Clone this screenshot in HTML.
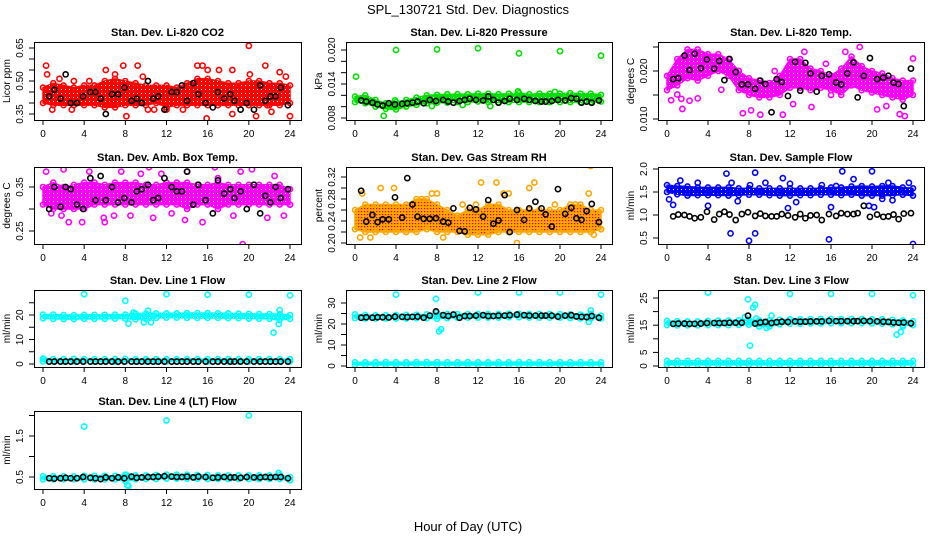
<!DOCTYPE html>
<html><head><meta charset="utf-8"><style>
html,body{margin:0;padding:0;background:#fff;}
svg{display:block;font-family:"Liberation Sans",Arial,sans-serif;}
</style></head><body>
<svg id="chart" width="936" height="540" viewBox="0 0 936 540" xmlns="http://www.w3.org/2000/svg">
<defs>
<pattern id="rhpat" width="3" height="3" patternUnits="userSpaceOnUse">
<rect width="3" height="3" fill="#ffa500"/><rect x="1" y="1" width="1.2" height="1.2" fill="#e00000"/>
</pattern>
<pattern id="dotpat" width="4" height="4" patternUnits="userSpaceOnUse">
<rect width="4" height="4" fill="none"/><rect x="1" y="1" width="1" height="1" fill="#fff"/>
</pattern>
</defs>
<text x="468" y="14" font-size="13" text-anchor="middle">SPL_130721  Std. Dev. Diagnostics</text>
<text x="468" y="531" font-size="13" text-anchor="middle">Hour of Day (UTC)</text>
</svg>
<script>
const xTicks = [0,4,8,12,16,20,24];
const blackX = [0.6,1.1,1.7,2.2,2.7,3.3,3.9,4.6,5.1,5.6,6.1,6.7,7.3,7.9,8.6,9.1,9.6,10.2,10.7,11.2,11.8,12.5,13.0,13.5,14.0,14.6,15.1,15.8,16.5,17.0,17.6,18.2,18.6,19.2,19.8,20.5,21.1,21.6,22.1,22.6,23.1,23.8];

// Panel 1: CO2
const co2Lo = [.40,.39,.39,.39,.39,.39,.38,.38,.39,.39,.39,.40,.38,.39,.39,.39,.39,.39,.39,.39,.39,.39,.39,.39,.40];
const co2Hi = [.47,.49,.48,.47,.48,.48,.50,.51,.50,.49,.48,.48,.48,.47,.49,.51,.51,.50,.49,.49,.50,.50,.49,.49,.48];
const co2OutX = [0.3,0.4,0.9,1.6,2.8,3.0,4.5,6.1,7.0,7.8,8.1,9.2,9.7,10.2,10.8,13.6,15.0,15.5,15.9,17.1,18.4,18.4,20.0,20.1,20.7,21.6,21.8,22.2,23.0,24.0,23.6,16.0,12.0,6.5];
const co2OutY = [.57,.53,.37,.51,.37,.50,.50,.55,.53,.57,.34,.57,.52,.37,.37,.37,.57,.57,.33,.55,.55,.35,.66,.53,.34,.57,.39,.36,.54,.34,.52,.55,.37,.40];
const co2Black = [.43,.46,.42,.53,.40,.40,.43,.45,.45,.42,.35,.44,.44,.47,.41,.42,.40,.50,.42,.43,.37,.45,.45,.48,.41,.49,.44,.40,.38,.45,.42,.44,.41,.37,.40,.37,.48,.41,.43,.43,.47,.39];

// Panel 2: pressure
const presLo = [.0108,.0106,.0100,.0096,.0095,.0100,.0103,.0106,.0107,.0107,.0108,.0108,.0109,.0108,.0108,.0108,.0108,.0108,.0108,.0108,.0108,.0108,.0108,.0108,.0109];
const presHi = [.0118,.0120,.0112,.0106,.0108,.0112,.0116,.0120,.0121,.0122,.0122,.0122,.0123,.0123,.0122,.0123,.0124,.0122,.0123,.0123,.0123,.0124,.0123,.0123,.0121];
const presOutX = [0.1,4.0,8.0,12.0,16.0,20.0,24.0,2.8,15.9,13.2,10.5,3.9,7.5,19.5];
const presOutY = [.0153,.0200,.0201,.0203,.0194,.0198,.0190,.0084,.0127,.0101,.0103,.0111,.0101,.0126];
const presBlack = [.0111,.0109,.0107,.0104,.0102,.0106,.0104,.0105,.0106,.0107,.0109,.0106,.0112,.0110,.0112,.0109,.0107,.0110,.0112,.0114,.0112,.0111,.0118,.0112,.0107,.0110,.0114,.0112,.0114,.0112,.0110,.0109,.0109,.0110,.0112,.0111,.0115,.0114,.0107,.0109,.0107,.0111];

// Panel 3: Li-820 temp
const tempLo = [.0160,.0170,.0185,.0180,.0190,.0200,.0190,.0160,.0150,.0145,.0145,.0150,.0165,.0165,.0160,.0165,.0160,.0150,.0170,.0160,.0155,.0150,.0145,.0140,.0150];
const tempHi = [.0190,.0225,.0245,.0245,.0235,.0235,.0225,.0200,.0185,.0180,.0175,.0190,.0225,.0225,.0205,.0200,.0190,.0205,.0230,.0210,.0200,.0195,.0185,.0180,.0180];
const tempOutX = [0.4,1.0,1.4,1.5,2.2,3.0,5.3,7.4,8.2,9.1,11.3,12.3,14.1,16.0,17.4,18.8,20.5,21.4,22.7,23.2,24.0,7.0,10.5,15.5,13.4];
const tempOutY = [.0139,.0151,.0142,.0121,.0138,.0143,.0161,.0112,.0118,.0109,.0109,.0131,.0125,.0150,.0240,.0250,.0120,.0127,.0110,.0106,.0226,.0200,.0200,.0215,.0240];
const tempBlack = [.0183,.0185,.0232,.0202,.0236,.0206,.0224,.0205,.0221,.0181,.0225,.0198,.0172,.0172,.0163,.0180,.0173,.0114,.0183,.0177,.0148,.0219,.0159,.0217,.0195,.0157,.0190,.0193,.0176,.0172,.0195,.0218,.0145,.0190,.0227,.0183,.0186,.0190,.0176,.0173,.0127,.0205];

// Panel 4: amb box temp
const ambLo = [.31,.30,.30,.30,.30,.31,.31,.31,.31,.31,.31,.31,.31,.31,.30,.31,.31,.30,.31,.31,.31,.31,.31,.31,.31];
const ambHi = [.35,.36,.35,.355,.36,.36,.355,.36,.36,.36,.355,.355,.36,.36,.36,.355,.355,.36,.355,.355,.355,.355,.355,.355,.345];
const ambOutX = [0.3,1.8,2.0,2.5,3.8,4.5,5.9,6.0,6.9,7.6,8.5,9.5,10.3,10.7,13.8,14.0,15.5,16.7,18.5,19.4,19.2,20.3,21.8,23.4,24.0,12.5,17.0,0.8,11.5,22.5];
const ambOutY = [.385,.285,.39,.27,.27,.385,.28,.27,.285,.385,.285,.38,.395,.28,.275,.385,.27,.395,.285,.22,.385,.39,.28,.285,.31,.29,.37,.29,.38,.375];
const ambBlack = [.30,.35,.305,.35,.345,.31,.30,.37,.32,.375,.32,.35,.315,.325,.315,.34,.345,.355,.32,.325,.37,.35,.34,.34,.385,.31,.355,.32,.29,.365,.335,.345,.325,.34,.30,.355,.29,.33,.315,.35,.325,.345];

// Panel 5: gas stream RH
const rhLo = [.225,.22,.22,.22,.22,.22,.22,.225,.22,.22,.22,.215,.215,.215,.22,.22,.22,.22,.22,.22,.22,.22,.22,.22,.225];
const rhHi = [.26,.27,.27,.27,.27,.27,.28,.28,.27,.26,.25,.26,.26,.27,.27,.26,.26,.26,.26,.26,.26,.27,.27,.26,.26];
const rhOutX = [0.5,0.7,2.5,3.8,5.0,7.5,8.0,8.6,10.5,11.8,12.3,13.8,14.5,15.0,15.8,17.0,17.5,19.5,21.5,22.8,23.0,23.3,24.0,1.5,6.5];
const rhOutY = [.21,.29,.30,.30,.22,.29,.29,.21,.27,.27,.31,.31,.29,.29,.20,.30,.31,.27,.27,.29,.34,.215,.225,.21,.28];
const rhBlack = [.295,.239,.251,.238,.243,.243,.283,.246,.318,.270,.248,.244,.244,.245,.239,.237,.263,.222,.221,.264,.261,.248,.278,.235,.241,.287,.220,.260,.242,.263,.275,.263,.252,.230,.298,.253,.264,.245,.242,.258,.271,.238];

// Panel 6: sample flow
const sfLo = [1.50,1.45,1.42,1.43,1.43,1.43,1.42,1.43,1.44,1.44,1.43,1.42,1.42,1.43,1.43,1.44,1.44,1.43,1.44,1.42,1.42,1.42,1.43,1.44,1.42];
const sfHi = [1.65,1.63,1.62,1.60,1.60,1.60,1.60,1.58,1.58,1.58,1.58,1.58,1.58,1.58,1.58,1.58,1.60,1.60,1.62,1.63,1.62,1.63,1.63,1.60,1.58];
const sfOutX = [0.2,0.6,1.3,4.0,5.8,6.2,6.3,6.9,8.0,8.1,8.6,8.6,11.3,11.8,12.0,12.6,15.1,15.8,16.0,16.5,17.1,18.2,19.7,20.0,20.2,21.0,21.6,22.0,23.6,24.0,3.0,9.6];
const sfOutY = [1.34,1.22,1.75,1.20,1.90,0.60,1.70,1.30,0.44,1.65,1.92,0.60,1.80,1.15,1.68,1.28,1.65,0.47,1.17,1.63,1.95,1.78,1.20,1.95,1.17,1.35,1.70,1.32,1.70,0.37,1.70,1.70];
const sfBlack = [.97,1.01,1.0,.97,.93,.95,1.07,.90,1.02,1.07,1.01,.89,1.02,1.06,.98,1.03,.98,.97,.97,1.02,.99,.95,1.02,.93,.99,1.0,.89,1.02,.98,1.04,1.02,1.02,1.04,1.2,.96,1.01,.96,.97,1.01,.91,1.03,1.04];

// Panel 7: line 1 flow
const l1Lo = [18.6,18.4,18.3,18.3,18.4,18.4,18.4,18.5,18.5,18.2,18.4,18.8,18.9,18.9,18.8,18.8,18.8,18.8,18.7,18.7,18.5,18.5,18.4,18.0,18.4];
const l1Hi = [20.2,20.2,20.0,20.0,20.1,20.1,20.1,20.2,20.2,20.6,20.6,20.7,20.7,20.7,20.8,20.8,20.8,20.7,20.7,20.6,20.5,20.4,20.4,20.4,20.0];
const l1LowLo = [1.0,1.0,1.0,1.0,1.0,1.0,1.0,1.0,1.0,1.0,1.0,1.0,1.0,1.0,1.0,1.0,1.0,1.0,1.0,1.0,1.0,1.0,1.0,1.0,1.0];
const l1LowHi = [2.2,2.0,2.0,2.1,2.0,2.0,2.0,2.0,2.1,2.0,2.0,2.0,2.0,2.0,2.0,2.0,2.0,2.0,2.0,2.0,2.0,2.0,2.0,2.0,2.0];
const l1OutX = [4.0,8.0,8.3,8.8,10.2,9.8,10.5,12.0,16.0,20.0,22.4,22.9,23.0,24.0,0.1];
const l1OutY = [28.5,25.8,16.5,21.0,21.8,17.0,17.0,28.5,28.3,28.3,12.8,16.3,22.0,28.0,2.0];
const l1Black = [1.0,1.0,1.0,1.0,1.0,1.0,1.0,1.0,1.0,1.0,1.0,1.0,1.0,1.0,1.0,1.0,1.0,1.0,1.0,1.0,1.0,1.0,1.0,1.0,1.0,1.0,1.0,1.0,1.0,1.0,1.0,1.0,1.0,1.0,1.0,1.0,1.0,1.0,1.0,1.0,1.0,1.0];

// Panel 8: line 2 flow
const l2Lo = [22.8,22.6,22.6,22.6,22.6,22.6,22.7,22.7,22.5,22.8,23.0,23.0,23.0,23.0,23.0,23.2,23.2,23.0,23.0,23.0,23.0,22.8,22.6,22.6,22.6];
const l2Hi = [24.6,24.3,24.2,24.2,24.3,24.4,24.4,24.6,25.5,24.8,24.7,24.7,24.8,24.8,24.8,24.9,24.9,24.8,24.8,24.8,24.7,24.6,24.5,24.8,24.0];
const l2LowLo = [0.5,0.5,0.5,0.5,0.5,0.5,0.5,0.5,0.5,0.5,0.5,0.5,0.5,0.5,0.5,0.5,0.5,0.5,0.5,0.5,0.5,0.5,0.5,0.5,0.5];
const l2LowHi = [1.8,1.8,1.8,1.9,1.8,1.8,1.9,1.9,1.9,1.8,1.8,1.9,1.8,1.8,1.9,1.8,1.9,1.8,1.9,1.8,1.9,1.8,1.9,1.8,1.8];
const l2OutX = [4.0,7.9,8.2,8.4,12.0,16.0,20.0,22.8,23.0,24.0];
const l2OutY = [34,32,16.5,17.5,35,35,35,21,26.5,34];
const l2Black = [23.0,23.2,23.0,23.2,23.2,23.1,23.5,23.4,23.3,23.4,23.5,23.0,24.0,26.0,24.2,23.8,24.5,23.0,23.8,23.8,24.0,24.2,23.8,23.8,24.0,24.0,24.2,24.5,24.2,24.0,24.0,24.0,24.0,24.0,23.5,24.0,24.2,23.6,23.4,23.3,23.8,23.0];

// Panel 9: line 3 flow
const l3Lo = [15.0,14.9,14.9,14.9,15.0,15.0,15.0,15.1,15.2,14.5,14.5,15.3,15.5,15.5,15.6,15.6,15.7,15.7,15.7,15.7,15.6,15.5,15.3,15.0,15.0];
const l3Hi = [16.6,16.5,16.4,16.4,16.6,16.7,16.7,16.8,17.0,16.8,16.8,17.0,17.2,17.2,17.3,17.3,17.3,17.3,17.3,17.3,17.2,17.2,17.0,16.8,16.5];
const l3LowLo = [0.4,0.4,0.4,0.4,0.4,0.4,0.4,0.4,0.4,0.4,0.4,0.4,0.4,0.4,0.4,0.4,0.4,0.4,0.4,0.4,0.4,0.4,0.4,0.4,0.4];
const l3LowHi = [1.9,1.9,1.9,1.9,1.9,1.9,1.9,1.9,1.9,1.9,1.9,1.9,1.9,1.9,1.9,1.9,1.9,1.9,1.9,1.9,1.9,1.9,1.9,1.9,1.9];
const l3OutX = [4.0,7.9,8.1,8.4,8.6,8.7,7.6,9.7,10.2,12.0,16.0,20.0,22.4,22.8,23.0,24.0];
const l3OutY = [27,24.5,7.5,21.5,22.5,17.5,18,14,18.5,26.5,26.5,26.5,11.5,12.5,14.5,26];
const l3Black = [15.5,15.6,15.6,15.5,15.5,15.6,15.8,15.8,15.8,15.8,15.9,15.9,15.9,18.5,15.6,16.0,16.2,15.8,16.1,16.3,16.2,16.4,16.3,16.3,16.4,16.4,16.4,16.6,16.5,16.5,16.5,16.5,16.5,16.6,16.5,16.4,16.3,16.2,16.0,15.9,16.0,15.7];

// Panel 10: line 4 flow
const l4Lo = [0.44,0.44,0.44,0.44,0.44,0.44,0.44,0.44,0.40,0.44,0.45,0.45,0.46,0.46,0.46,0.46,0.45,0.45,0.45,0.45,0.45,0.45,0.45,0.45,0.42];
const l4Hi = [0.52,0.52,0.52,0.52,0.53,0.53,0.53,0.53,0.56,0.54,0.54,0.55,0.56,0.56,0.56,0.55,0.55,0.54,0.54,0.54,0.54,0.54,0.54,0.55,0.50];
const l4OutX = [4.0,12.0,20.0,8.1,8.2,8.3,22.9,24.0];
const l4OutY = [1.73,1.88,2.0,0.55,0.30,0.28,0.60,0.42];
const l4Black = [0.47,0.46,0.47,0.48,0.47,0.47,0.50,0.48,0.47,0.45,0.49,0.47,0.49,0.47,0.51,0.48,0.49,0.50,0.50,0.51,0.52,0.51,0.50,0.50,0.51,0.49,0.51,0.50,0.48,0.49,0.50,0.49,0.49,0.48,0.50,0.49,0.49,0.50,0.49,0.50,0.50,0.47];

const hours = [0,1,2,3,4,5,6,7,8,9,10,11,12,13,14,15,16,17,18,19,20,21,22,23,24];

const cols = [{l:34,r:301},{l:346,r:612},{l:658,r:924}];
const rows = [{t:42,b:120},{t:167,b:244},{t:290,b:367},{t:411,b:489}];

const panels = [
 {name:'co2',title:'Stan. Dev. Li-820 CO2',ylab:'Licor ppm',c:0,r:0,y1:0.65,p1:48,y2:0.35,p2:114,ticks:[.35,.40,.45,.50,.55,.60,.65],labels:['0.35','0.50','0.65'],lv:[.35,.50,.65],col:'#ff0000',bands:[[co2Lo,co2Hi]],ox:co2OutX,oy:co2OutY,bk:co2Black},
 {name:'pressure',title:'Stan. Dev. Li-820 Pressure',ylab:'kPa',c:1,r:0,y1:0.020,p1:50,y2:0.008,p2:118,ticks:[.008,.010,.012,.014,.016,.018,.020],labels:['0.008','0.014','0.020'],lv:[.008,.014,.020],col:'#00e000',bands:[[presLo,presHi]],ox:presOutX,oy:presOutY,bk:presBlack},
 {name:'li820-temp',title:'Stan. Dev. Li-820 Temp.',ylab:'degrees C',c:2,r:0,y1:0.020,p1:71,y2:0.010,p2:119,ticks:[.010,.015,.020,.025],labels:['0.010','0.020'],lv:[.010,.020],col:'#ff00ff',bands:[[tempLo,tempHi]],ox:tempOutX,oy:tempOutY,bk:tempBlack},
 {name:'amb-box-temp',title:'Stan. Dev. Amb. Box Temp.',ylab:'degrees C',c:0,r:1,y1:0.35,p1:187,y2:0.25,p2:231,ticks:[.25,.30,.35],labels:['0.25','0.35'],lv:[.25,.35],col:'#ff00ff',bands:[[ambLo,ambHi]],ox:ambOutX,oy:ambOutY,bk:ambBlack},
 {name:'gas-stream-rh',title:'Stan. Dev. Gas Stream RH',ylab:'percent',c:1,r:1,y1:0.32,p1:177,y2:0.20,p2:243,ticks:[.20,.22,.24,.26,.28,.30,.32],labels:['0.20','0.24','0.28','0.32'],lv:[.20,.24,.28,.32],col:'#ffa500',fill:'url(#rhpat)',bands:[[rhLo,rhHi]],ox:rhOutX,oy:rhOutY,bk:rhBlack},
 {name:'sample-flow',title:'Stan. Dev. Sample Flow',ylab:'ml/min',c:2,r:1,y1:2.0,p1:169,y2:0.5,p2:238,ticks:[.5,1,1.5,2],labels:['0.5','1.0','1.5','2.0'],lv:[.5,1,1.5,2],col:'#0000ff',bands:[[sfLo,sfHi]],ox:sfOutX,oy:sfOutY,bk:sfBlack},
 {name:'line1-flow',title:'Stan. Dev. Line 1 Flow',ylab:'ml/min',c:0,r:2,y1:20,p1:315,y2:0,p2:364,ticks:[0,5,10,15,20,25],labels:['0','10','20'],lv:[0,10,20],col:'#00ffff',bands:[[l1Lo,l1Hi],[l1LowLo,l1LowHi]],ox:l1OutX,oy:l1OutY,bk:l1Black},
 {name:'line2-flow',title:'Stan. Dev. Line 2 Flow',ylab:'ml/min',c:1,r:2,y1:30,p1:303,y2:0,p2:366,ticks:[0,5,10,15,20,25,30],labels:['0','10','20','30'],lv:[0,10,20,30],col:'#00ffff',bands:[[l2Lo,l2Hi],[l2LowLo,l2LowHi]],ox:l2OutX,oy:l2OutY,bk:l2Black},
 {name:'line3-flow',title:'Stan. Dev. Line 3 Flow',ylab:'ml/min',c:2,r:2,y1:25,p1:298,y2:0,p2:366,ticks:[0,5,10,15,20,25],labels:['0','5','15','25'],lv:[0,5,15,25],col:'#00ffff',bands:[[l3Lo,l3Hi],[l3LowLo,l3LowHi]],ox:l3OutX,oy:l3OutY,bk:l3Black},
 {name:'line4-flow',title:'Stan. Dev. Line 4 (LT) Flow',ylab:'ml/min',c:0,r:3,y1:1.5,p1:436,y2:0.5,p2:477,ticks:[.5,1,1.5,2],labels:['0.5','1.5'],lv:[.5,1.5],col:'#00ffff',bands:[[l4Lo,l4Hi]],ox:l4OutX,oy:l4OutY,bk:l4Black}
];

const NS='http://www.w3.org/2000/svg';
const svg=document.getElementById('chart');
function mk(tag,attrs,parent){const e=document.createElementNS(NS,tag);for(const k in attrs)e.setAttribute(k,attrs[k]);(parent||svg).appendChild(e);return e;}

panels.forEach(p=>{
  const C=cols[p.c],R=rows[p.r];
  const g=mk('g',{});
  
  
  const xs=h=>C.l+9+(h/24)*(C.r-C.l-20);
  const ys=v=>p.p2+(v-p.y2)*(p.p1-p.p2)/(p.y1-p.y2);
  const t=mk('text',{x:(C.l+C.r)/2,y:R.t-6,'font-size':11,'font-weight':'bold','text-anchor':'middle'},g);
  t.textContent=p.title;
  
  
  const yl=mk('text',{x:0,y:0,'font-size':10,'text-anchor':'middle',transform:`translate(${C.l-24},${(R.t+R.b)/2}) rotate(-90)`},g);
  yl.textContent=p.ylab;
  
  
  const cid='clip-'+p.name;
  const cp=mk('clipPath',{id:cid},g);
  mk('rect',{x:C.l,y:R.t,width:C.r-C.l,height:R.b-R.t},cp);
  const data=mk('g',{'clip-path':`url(#${cid})`},g);
  p.bands.forEach((b,bi)=>{
    const lo=b[0],hi=b[1];
    let pts=hours.map((h,i)=>xs(h)+','+ys(hi[i]));
    pts=pts.concat(hours.slice().reverse().map((h,j)=>{const i=hours.length-1-j;return xs(h)+','+ys(lo[i]);}));
    const poly=mk('polygon',{points:pts.join(' '),fill:p.fill||p.col,stroke:p.col,'stroke-width':1.5,'stroke-linejoin':'round'},data);
    
    
    if(!p.fill){
      const tex=mk('polygon',{points:pts.join(' '),fill:'url(#dotpat)',stroke:'none'},data);
      
      
    }
    hours.forEach((h,i)=>{
      [lo[i],hi[i]].forEach(v=>{
        const c=mk('circle',{cx:xs(h),cy:ys(v),r:2.5,fill:'none',stroke:p.col,'stroke-width':1.6},data);
        
        
      });
    });
  });
  p.ox.forEach((x,i)=>{
    const c=mk('circle',{cx:xs(x),cy:ys(p.oy[i]),r:2.6,fill:'none',stroke:p.col,'stroke-width':1.6},data);
    
    
  });
  p.bk.forEach((v,i)=>{
    const c=mk('circle',{cx:xs(blackX[i]),cy:ys(v),r:2.6,fill:'none',stroke:'#000','stroke-width':1.6},data);
    
    
  });
  const box=mk('rect',{x:C.l+0.5,y:R.t+0.5,width:C.r-C.l,height:R.b-R.t,fill:'none',stroke:'#000','stroke-width':1},g);
  
  
  mk('line',{x1:xs(0),x2:xs(24),y1:R.b+0.5,y2:R.b+0.5,stroke:'#000'},g);
  xTicks.forEach(h=>{
    mk('line',{x1:xs(h),x2:xs(h),y1:R.b,y2:R.b+5,stroke:'#000'},g);
    const tl=mk('text',{x:xs(h),y:R.b+17,'font-size':10,'text-anchor':'middle'},g);
    tl.textContent=h;
    
    
  });
  mk('line',{x1:C.l+0.5,x2:C.l+0.5,y1:ys(p.ticks[0]),y2:ys(p.ticks[p.ticks.length-1]),stroke:'#000'},g);
  p.ticks.forEach(v=>{mk('line',{x1:C.l-5,x2:C.l,y1:ys(v),y2:ys(v),stroke:'#000'},g);});
  p.labels.forEach((s,i)=>{
    const tl=mk('text',{x:0,y:0,'font-size':10,'text-anchor':'middle',transform:`translate(${C.l-11},${ys(p.lv[i])}) rotate(-90)`},g);
    tl.textContent=s;
    
    
  });
});
</script>
</body></html>
